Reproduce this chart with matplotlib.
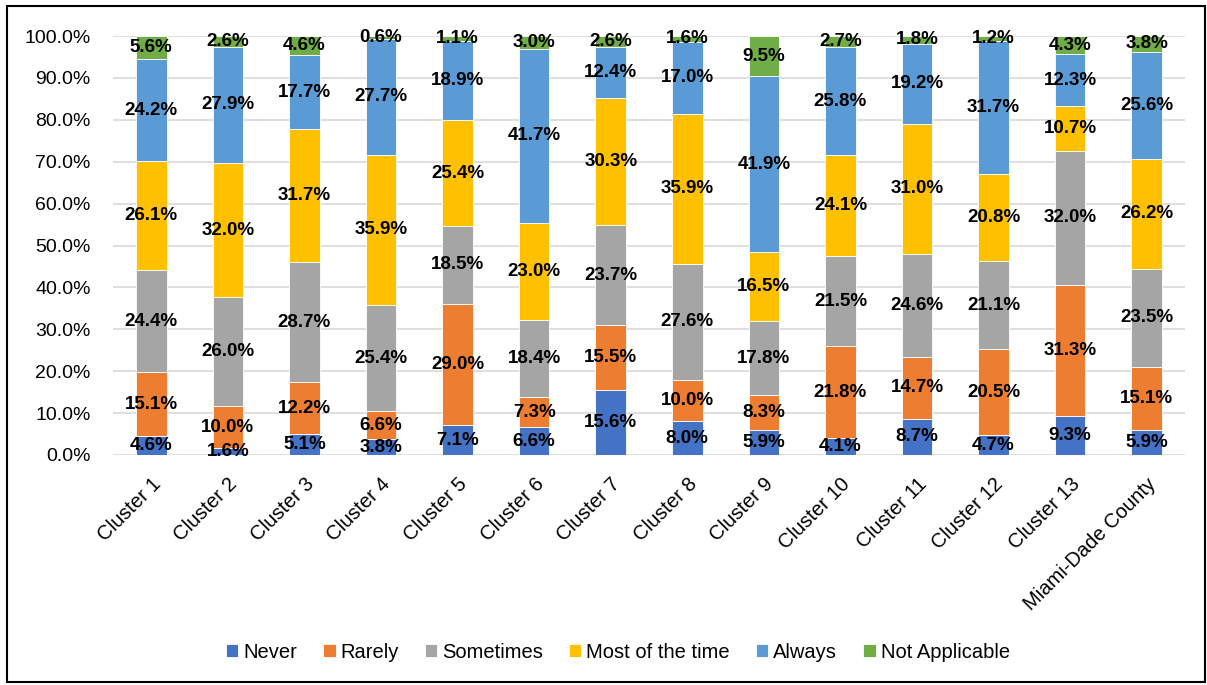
import matplotlib.pyplot as plt
import numpy as np
from matplotlib.patches import Rectangle
from matplotlib.ticker import PercentFormatter

plt.rcParams['font.family'] = ['Liberation Sans', 'DejaVu Sans']

categories = ['Cluster 1', 'Cluster 2', 'Cluster 3', 'Cluster 4', 'Cluster 5',
              'Cluster 6', 'Cluster 7', 'Cluster 8', 'Cluster 9', 'Cluster 10',
              'Cluster 11', 'Cluster 12', 'Cluster 13', 'Miami-Dade County']

never = [4.6, 1.6, 5.1, 3.8, 7.1, 6.6, 15.6, 8.0, 5.9, 4.1, 8.7, 4.7, 9.3, 5.9]
rarely = [15.1, 10.0, 12.2, 6.6, 29.0, 7.3, 15.5, 10.0, 8.3, 21.8, 14.7, 20.5, 31.3, 15.1]
sometimes = [24.4, 26.0, 28.7, 25.4, 18.5, 18.4, 23.7, 27.6, 17.8, 21.5, 24.6, 21.1, 32.0, 23.5]
most = [26.1, 32.0, 31.7, 35.9, 25.4, 23.0, 30.3, 35.9, 16.5, 24.1, 31.0, 20.8, 10.7, 26.2]
always = [24.2, 27.9, 17.7, 27.7, 18.9, 41.7, 12.4, 17.0, 41.9, 25.8, 19.2, 31.7, 12.3, 25.6]
not_applicable = [5.6, 2.6, 4.6, 0.6, 1.1, 3.0, 2.6, 1.6, 9.5, 2.7, 1.8, 1.2, 4.3, 3.8]

series = [('Never', never, '#4472C4'),
          ('Rarely', rarely, '#ED7D31'),
          ('Sometimes', sometimes, '#A5A5A5'),
          ('Most of the time', most, '#FFC000'),
          ('Always', always, '#5B9BD5'),
          ('Not Applicable', not_applicable, '#70AD47')]

fig = plt.figure(figsize=(12.07, 6.85), dpi=100)
ax = fig.add_axes([0.0936, 0.3358, 0.8882, 0.6116])

x = np.arange(len(categories))
bottom = np.zeros(len(categories))
for name, vals, color in series:
    vals = np.array(vals)
    ax.bar(x, vals, 0.4, bottom=bottom, color=color, label=name,
           edgecolor='white', linewidth=0.6, zorder=2)
    for xi, b, v in zip(x, bottom, vals):
        ax.text(xi, b + v / 2, f'{v:.1f}%', ha='center', va='center',
                fontsize=13.5, fontweight='bold', color='black', zorder=3)
    bottom += vals

ax.set_xlim(-0.5, len(categories) - 0.5)
ax.set_ylim(0, 100)
ax.set_yticks(np.arange(0, 101, 10))
ax.yaxis.set_major_formatter(PercentFormatter(decimals=1))
ax.tick_params(axis='y', labelsize=14, length=0, pad=16)
ax.tick_params(axis='x', labelsize=14.5, length=0, pad=14)
ax.set_xticks(x)
ax.set_xticklabels(categories, rotation=45, ha='right', rotation_mode='anchor')
ax.grid(axis='y', color='#D9D9D9', linewidth=1.2, zorder=0)
ax.set_axisbelow(True)
for s in ax.spines.values():
    s.set_visible(False)

fig.legend(loc='center', bbox_to_anchor=(0.512, 0.048), ncol=6, frameon=False,
           fontsize=14.5, handlelength=0.6, handleheight=0.6, handletextpad=0.25,
           columnspacing=1.3)

fig.patches.append(Rectangle((0.006, 0.004), 0.992, 0.987, transform=fig.transFigure,
                             fill=False, edgecolor='black', linewidth=1.5))

fig.savefig('out.png', dpi=100)
